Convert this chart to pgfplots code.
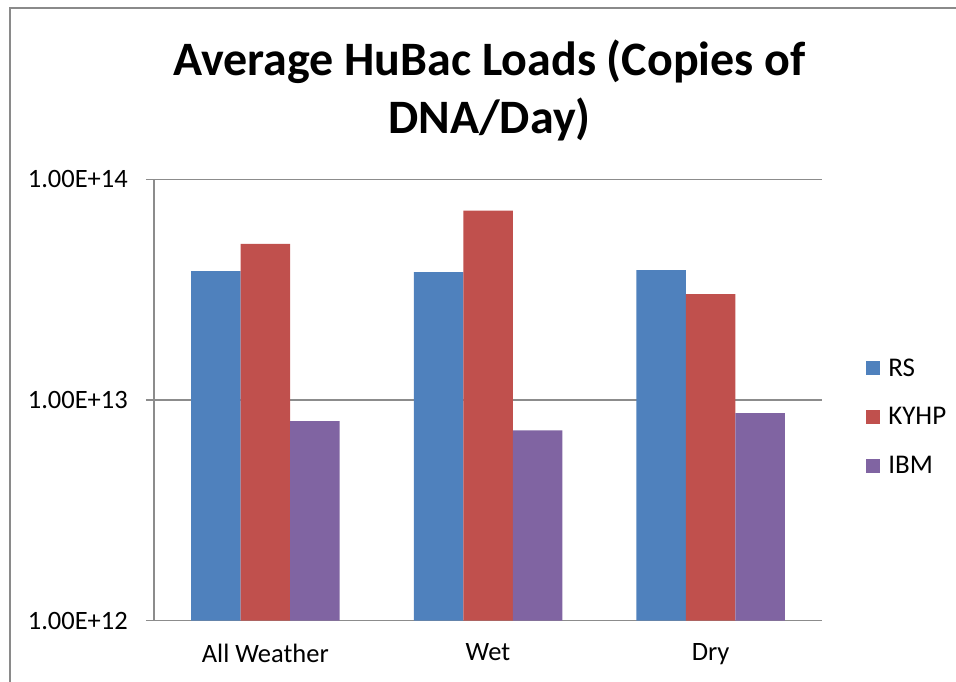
\documentclass[border=0pt]{standalone}
\usepackage{pgfplots}
\pgfplotsset{compat=1.18}
\usepackage{fontspec}
\setmainfont{Carlito}
\definecolor{rscolor}{HTML}{4F81BD}
\definecolor{kyhpcolor}{HTML}{C0504D}
\definecolor{ibmcolor}{HTML}{8064A2}
\definecolor{gridgray}{HTML}{8C8C8C}
\definecolor{framegray}{HTML}{8A8A8A}

\begin{document}
\begin{tikzpicture}
\useasboundingbox (0,0) rectangle (956bp,682bp);
% chart frame (runs off the right and bottom edges)
\draw[framegray, line width=2bp] (10bp,-20bp) -- (10bp,674bp) -- (980bp,674bp);
\node[font=\fontsize{48bp}{58bp}\selectfont\bfseries, align=center] at (489.5bp,592bp)
  {Average HuBac Loads (Copies of\\DNA/Day)};
\begin{axis}[
    at={(154bp,61.3bp)}, anchor=south west,
    scale only axis, width=668bp, height=441.4bp,
    ymode=log, log origin y=infty,
    ymin=1e12, ymax=1e14,
    xmin=-0.5, xmax=2.5,
    ybar=0pt, bar width=49.5bp,
    axis lines=left, axis line style={-, gridgray, line width=1.3bp},
    ytick={1e12,1e13,1e14},
    yticklabels={1.00E+12,1.00E+13,1.00E+14},
    ymajorgrids, grid style={gridgray, line width=1.3bp},
    minor ytick={}, yminorticks=false,
    tick align=outside, major tick length=8bp,
    ytick style={gridgray, line width=1.3bp},
    xtick={0,1,2}, xticklabels={All Weather,Wet,Dry},
    xtick style={draw=none},
    tick label style={font=\fontsize{26.5bp}{30bp}\selectfont},
    yticklabel style={inner sep=0pt, xshift=-18bp},
    xticklabel style={inner sep=0pt, yshift=-15bp},
    legend style={at={(1.066,0.4615)}, anchor=west, draw=none, fill=none,
      font=\fontsize{27bp}{30bp}\selectfont, row sep=30bp, inner sep=0pt,
      nodes={inner sep=0pt}},
    legend cell align=left,
    legend image code/.code={\fill[#1] (0bp,-7bp) rectangle (14bp,7bp);},
    /tikz/every odd column/.append style={column sep=8bp},
]
\addplot[fill=rscolor, draw=none] coordinates {(0,3.84e13) (1,3.80e13) (2,3.88e13)};
\addlegendentry{RS}
\addplot[fill=kyhpcolor, draw=none] coordinates {(0,5.09e13) (1,7.21e13) (2,3.02e13)};
\addlegendentry{KYHP}
\addplot[fill=ibmcolor, draw=none] coordinates {(0,8.01e12) (1,7.29e12) (2,8.71e12)};
\addlegendentry{IBM}
\end{axis}
\end{tikzpicture}
\end{document}
